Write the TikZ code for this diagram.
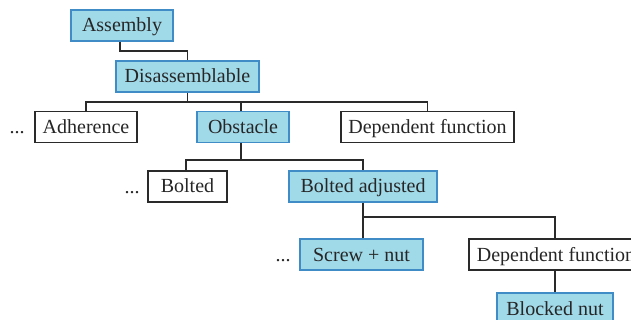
\documentclass[tikz,border=0pt]{standalone}
\usepackage{fontspec}
\setmainfont{Liberation Serif}
\definecolor{bfill}{HTML}{A0DAE9}
\definecolor{bdraw}{HTML}{3F8CC6}
\definecolor{gline}{HTML}{2A2A2A}
\begin{document}
\begin{tikzpicture}[x=1pt,y=-1pt,
  every node/.style={font=\fontsize{20}{24}\selectfont, text=black!85, text height=13pt, text depth=0pt},
  base/.style={rectangle, minimum height=31pt, inner sep=0pt, line width=1.1pt},
  blue/.style={base, fill=bfill, draw=bdraw},
  plain/.style={base, fill=white, draw=gline},
  conn/.style={draw=gline, line width=1.1pt},
  dots/.style={inner sep=0pt}]
\useasboundingbox (0,0) rectangle (631,320);
\clip (0,0) rectangle (631,320);
\node[blue, minimum width=102pt] (asm) at (122,25.5) {Assembly};
\node[blue, minimum width=143pt] (dis) at (187.5,76.5) {Disassemblable};
\node[plain, minimum width=102pt] (adh) at (86,127) {Adherence};
\node[blue, minimum width=92pt] (obs) at (243,127) {Obstacle};
\node[plain, minimum width=173pt] (dep1) at (427.5,127) {Dependent function};
\node[dots] (d1) at (17,127) {...};
\node[plain, minimum width=79pt] (bol) at (187.5,186.5) {Bolted};
\node[blue, minimum width=148pt] (bad) at (363,186.5) {Bolted adjusted};
\node[dots] (d2) at (132,187) {...};
\node[blue, minimum width=123pt] (scr) at (361.5,254.5) {Screw + nut};
\node[dots] (d3) at (283,255) {...};
\node[plain, minimum width=174pt] (dep2) at (556,254.5) {Dependent function};
\node[blue, minimum width=116pt] (blk) at (555,308.5) {Blocked nut};
% connectors
\coordinate (y1) at (0,51);
\coordinate (y2) at (0,102);
\coordinate (y3) at (0,160);
\coordinate (y4) at (0,217);
\draw[conn] ([xshift=-2pt]asm.south) |- (dis.north |- y1) -- (dis.north);
\draw[conn] (dis.south) -- (dis.south |- y2);
\draw[conn] (adh.north) |- (dep1.north |- y2) -- (dep1.north);
\draw[conn] ([xshift=-2pt]obs.north) -- ([xshift=-2pt]obs.north |- y2);
\draw[conn] ([xshift=-2pt]obs.south) -- ([xshift=-2pt]obs.south |- y3);
\draw[conn] ([xshift=-1.5pt]bol.north) |- (bad.north |- y3) -- (bad.north);
\draw[conn] (bad.south) -- (bad.south |- y4);
\draw[conn] ([xshift=1.5pt]scr.north) |- ([xshift=-1pt]dep2.north |- y4) -- ([xshift=-1pt]dep2.north);
\draw[conn] ([xshift=-1pt]dep2.south) -- ([xshift=-1pt]dep2.south |- blk.north);
\end{tikzpicture}
\end{document}
